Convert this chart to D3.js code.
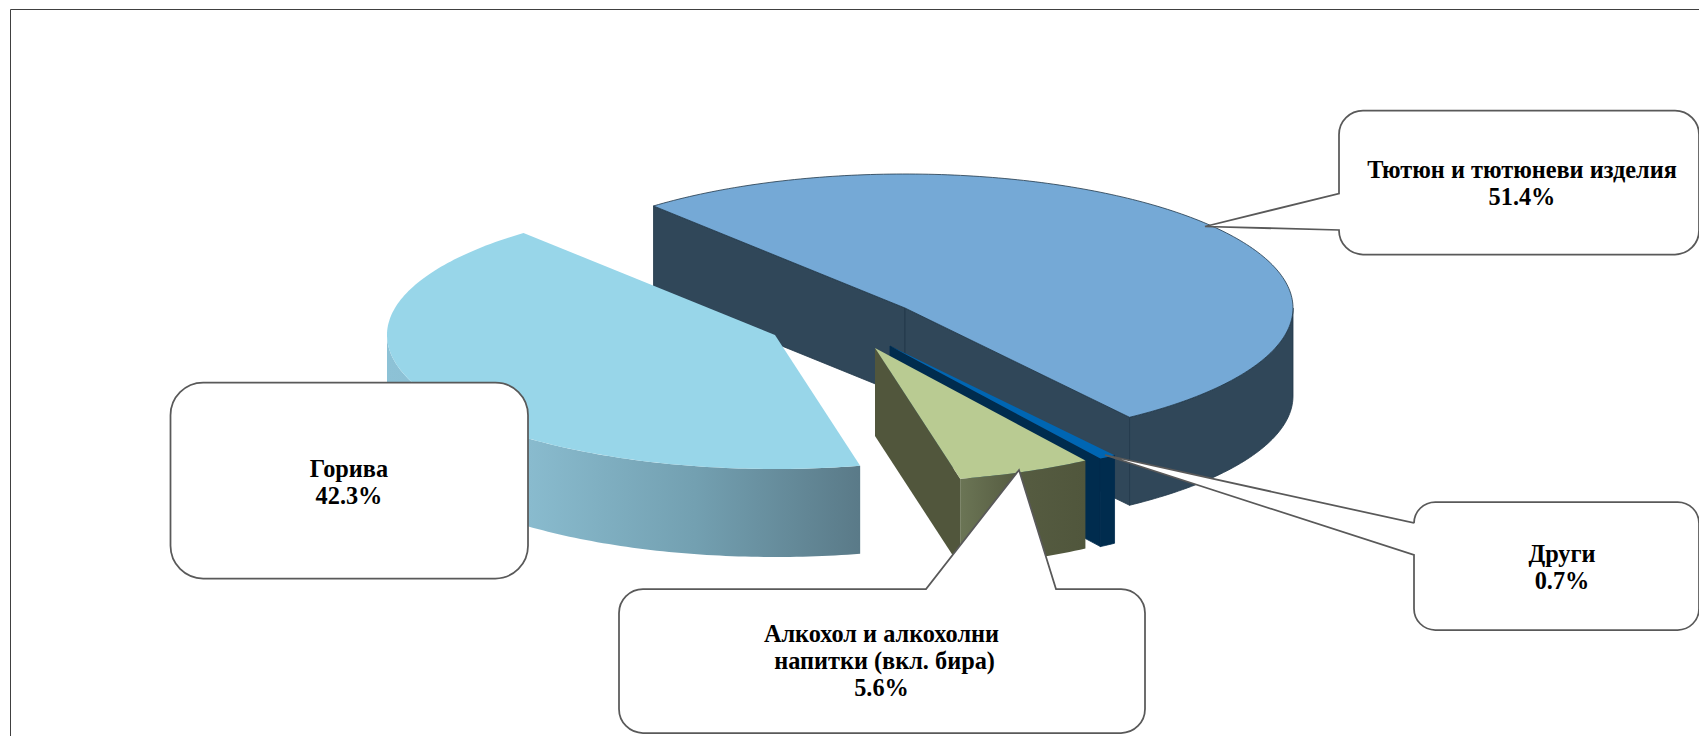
<!DOCTYPE html>
<html lang="bg">
<head>
<meta charset="UTF-8">
<title>Pie</title>
<style>
  html, body { margin: 0; padding: 0; background: #fff; overflow: hidden; }
  text { font-family: "Liberation Serif", serif; font-weight: bold; font-size: 24.3px; fill: #000; text-anchor: middle; }
</style>
</head>
<body>
<script src="https://d3js.org/d3.v7.min.js"></script>
<script>
const categories = ["Тютюн и тютюневи изделия", "Други", "Алкохол и алкохолни напитки (вкл. бира)", "Горива"];
const values = [51.4, 0.7, 5.6, 42.3];
const valueLabels = ["51.4%", "0.7%", "5.6%", "42.3%"];

const width = 1699, height = 736;
const rx = 388, ry = 134, depth = 88;
const firstAngle = -40.4 * Math.PI / 180;

// where every slice sits after being pulled out of the pie
const centers = [[905, 308], [890, 346], [875, 348], [775, 335]];
const topColors = ["#75a9d6", "#0066b3", "#b9cb92", "#98d6e9"];
const wallColors = ["#304759", "#002c4e", "#51563c", "#5b7b89"];

const svg = d3.select("body").append("svg")
    .attr("width", width).attr("height", height).style("display", "block");

const defs = svg.append("defs");
function gradient(id, x1, x2, stops) {
  const g = defs.append("linearGradient").attr("id", id)
      .attr("gradientUnits", "userSpaceOnUse")
      .attr("x1", x1).attr("x2", x2).attr("y1", 0).attr("y2", 0);
  stops.forEach(s => g.append("stop").attr("offset", s[0]).attr("stop-color", s[1]));
}
gradient("fuelRim", 387, 860, [[0, "#8dc2d6"], [0.3, "#89bbce"], [0.65, "#73a0b1"], [1, "#5a7a88"]]);
gradient("alcRim", 960, 1086, [[0, "#6b7555"], [0.45, "#565c41"], [1, "#50563c"]]);
const rimFills = ["#304759", "#002c4e", "url(#alcRim)", "url(#fuelRim)"];
const edgeColors = ["#22384a", "#002c4e", "none", "none"];

svg.append("path")
    .attr("d", `M${width + 5},9.5H10.5V${height + 5}`)
    .attr("fill", "none").attr("stroke", "#404040").attr("stroke-width", 1);

const scaleX = d3.scaleLinear().domain([-1, 1]).range([-rx, rx]);
const scaleY = d3.scaleLinear().domain([-1, 1]).range([-ry, ry]);
const pt = (c, a, dz = 0) => [c[0] + scaleX(Math.sin(a)), c[1] + scaleY(-Math.cos(a)) + dz];

const pie = d3.pie().sort(null).startAngle(firstAngle).endAngle(firstAngle + 2 * Math.PI);
const slices = pie(values);
const line = d3.line();

function rim(c, a0, a1, dz) {
  const n = Math.max(2, Math.ceil(Math.abs(a1 - a0) * 60));
  return d3.range(n + 1).map(i => pt(c, a0 + (a1 - a0) * i / n, dz));
}

slices.forEach((s, i) => {
  const c = centers[i];
  const g = svg.append("g").attr("class", "slice");
  const edge = edgeColors[i];

  // the cut faces, only those turned to the viewer
  [[s.startAngle, Math.sin(s.startAngle) < 0], [s.endAngle, Math.sin(s.endAngle) > 0]].forEach(w => {
    if (!w[1]) return;
    g.append("path")
        .attr("d", line([c, pt(c, w[0]), pt(c, w[0], depth), [c[0], c[1] + depth]]) + "Z")
        .attr("fill", wallColors[i]).attr("stroke", edge).attr("stroke-width", 0.8);
  });

  // front part of the outer wall
  const a0 = Math.max(s.startAngle, Math.PI / 2), a1 = Math.min(s.endAngle, 1.5 * Math.PI);
  if (a1 > a0) {
    g.append("path")
        .attr("d", line(rim(c, a0, a1, 0).concat(rim(c, a1, a0, depth))) + "Z")
        .attr("fill", rimFills[i]).attr("stroke", edge).attr("stroke-width", 0.8);
  }

  g.append("path")
      .attr("d", line([c].concat(rim(c, s.startAngle, s.endAngle, 0))) + "Z")
      .attr("fill", topColors[i]).attr("stroke", i === 1 ? "none" : edge).attr("stroke-width", 0.8);
});

// callouts: box, then the pointer cut into one of its sides
function callout(b, side, p1, p2, tip) {
  const r = Math.min(b.w, b.h) / 6, p = d3.path();
  const x0 = b.x, y0 = b.y, x1 = b.x + b.w, y1 = b.y + b.h;
  p.moveTo(x0 + r, y0);
  if (side === "top") { p.lineTo(p1, y0); p.lineTo(tip[0], tip[1]); p.lineTo(p2, y0); }
  p.lineTo(x1 - r, y0);
  p.arcTo(x1, y0, x1, y0 + r, r);
  p.lineTo(x1, y1 - r);
  p.arcTo(x1, y1, x1 - r, y1, r);
  p.lineTo(x0 + r, y1);
  p.arcTo(x0, y1, x0, y1 - r, r);
  if (side === "left") { p.lineTo(x0, p2); p.lineTo(tip[0], tip[1]); p.lineTo(x0, p1); }
  p.lineTo(x0, y0 + r);
  p.arcTo(x0, y0, x0 + r, y0, r);
  p.closePath();
  svg.append("path").attr("d", p.toString())
      .attr("fill", "#fff").attr("stroke", "#595959").attr("stroke-width", 1.75);
}

callout({x: 1339, y: 110.5, w: 360, h: 144}, "left", 193.5, 230, [1205, 226.5]);
callout({x: 1414, y: 502, w: 285, h: 128}, "left", 523, 555, [1105, 455]);
callout({x: 619, y: 589, w: 526, h: 144}, "top", 926, 1056, [1019, 470]);
callout({x: 170.5, y: 382.5, w: 357.5, h: 196}, "none");

function label(cx, base, rows) {
  rows.forEach((t, i) => {
    svg.append("text").attr("x", cx).attr("y", base + i * 27.3).text(t);
  });
}
label(1522, 178, [categories[0], valueLabels[0]]);
label(1562, 561.5, [categories[1], valueLabels[1]]);
label(881.5, 641.7, ["Алкохол и алкохолни", "\u00a0напитки (вкл. бира)", valueLabels[2]]);
label(349, 476.7, [categories[3], valueLabels[3]]);
</script>
</body>
</html>
